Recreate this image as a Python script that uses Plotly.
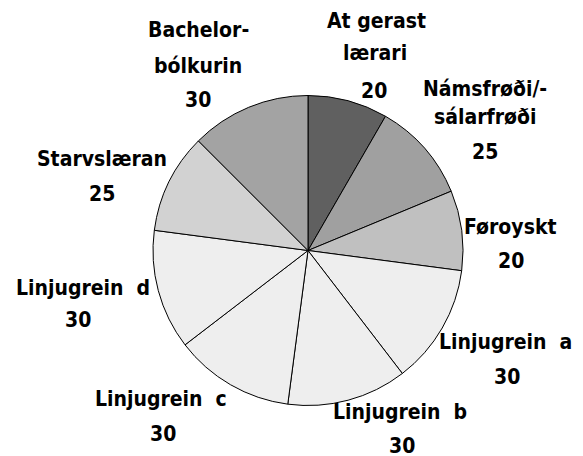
import plotly.graph_objects as go

# ---- data ----
labels = ["At gerast<br>lærari", "Námsfrøði/-<br>sálarfrøði", "Føroyskt",
          "Linjugrein\u00a0\u00a0a", "Linjugrein\u00a0\u00a0b", "Linjugrein\u00a0\u00a0c",
          "Linjugrein\u00a0\u00a0d", "Starvslæran", "Bachelor-<br>bólkurin"]
values = [20, 25, 20, 30, 30, 30, 30, 25, 30]
colors = ["#606060", "#a0a0a0", "#c0c0c0", "#eeeeee", "#eeeeee", "#eeeeee",
          "#eeeeee", "#d2d2d2", "#a3a3a3"]

# ---- layout (pixel positions of each text line in the screenshot) ----
W, H = 583, 456
OFF = 8  # page body margin offset
line_pos = [
    [(376, 20), (375, 51), (374, 89)],
    [(485, 87.5), (485, 116), (485, 150.5)],
    [(510, 225.5), (510.5, 259)],
    [(505.5, 340.5), (506.5, 375)],
    [(400, 410), (401.5, 444)],
    [(160.5, 397), (163.3, 432.5)],
    [(82.5, 286), (77.5, 318)],
    [(101.5, 157.5), (101.5, 192.5)],
    [(198.5, 29), (198, 65), (198, 98)],
]

FONT = dict(family="DejaVu Sans Condensed, DejaVu Sans, sans-serif", size=21,
            color="#000000", weight="bold")


def px_x(x):
    return (x - OFF) / W


def px_y(y):
    return 1 - (y - OFF) / H


fig = go.Figure(go.Pie(
    labels=labels, values=values, sort=False, direction="clockwise", rotation=0,
    marker=dict(colors=colors, line=dict(color="#000000", width=1)),
    textinfo="none", hoverinfo="label+value",
    domain=dict(x=[px_x(153), px_x(463)], y=[px_y(405.5), px_y(95.5)]),
    showlegend=False,
))

annotations = []
for lab, val, pos in zip(labels, values, line_pos):
    lines = lab.split("<br>") + [str(val)]
    for txt, (px, py) in zip(lines, pos):
        annotations.append(dict(text=txt, x=px_x(px), y=px_y(py + 1.5), xref="paper", yref="paper",
                                xanchor="center", yanchor="middle", showarrow=False,
                                font=FONT))

fig.update_layout(width=W, height=H, margin=dict(l=0, r=0, t=0, b=0),
                  paper_bgcolor="white", plot_bgcolor="white",
                  annotations=annotations)

fig.write_html("out.html")
